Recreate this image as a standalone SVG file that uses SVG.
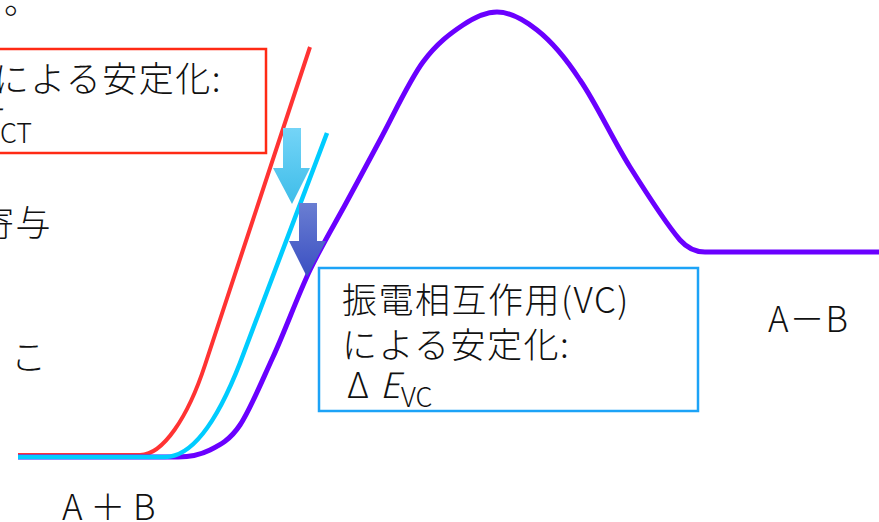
<svg xmlns="http://www.w3.org/2000/svg" width="879" height="522" viewBox="0 0 879 522">
  <defs>
    <style>
      .t { font-family: "Noto Sans CJK JP", "Noto Sans", sans-serif; font-size: 35px; font-weight: 300; fill: #111; }
      .w { letter-spacing: 1.5px; }
      .sub { font-size: 27px; letter-spacing: 0; }
      .curve { fill: none; stroke-linecap: butt; stroke-linejoin: round; }
      .box { fill: none; stroke-width: 2.5; }
    </style>
    <linearGradient id="gLight" x1="0" y1="0" x2="0" y2="1">
      <stop offset="0" stop-color="#74d4f7"/>
      <stop offset="1" stop-color="#3ebde9"/>
    </linearGradient>
    <linearGradient id="gDark" x1="0" y1="0" x2="0" y2="1">
      <stop offset="0" stop-color="#6a7ed2"/>
      <stop offset="1" stop-color="#3a4fc2"/>
    </linearGradient>
  </defs>

  <g id="partial-text">
    <text class="t" x="4" y="14">。</text>
    <text class="t w" x="-21" y="236">寄与</text>
    <text class="t" x="11" y="370">こ</text>
  </g>

  <g id="ct-box">
    <rect class="box" x="-10" y="49" width="276" height="104" stroke="#ff2a14"/>
    <text class="t w" x="222" y="92" text-anchor="end">による安定化:</text>
    <text class="t" y="134"><tspan x="-54">Δ</tspan><tspan x="-21" font-style="italic">E</tspan><tspan class="sub" x="0" y="143">CT</tspan></text>
  </g>

  <g id="connectors">
    <path class="curve" stroke="#ff3333" stroke-width="4" d="M18,455 H140 C163,455 188,417 205,365 L310,47"/>
    <path class="curve" stroke="#6a00ff" stroke-width="5" d="M18,457 H178 C189,457 200,455 210,450 C220,445 230,440 240,425 C250,410 261,383 273,357 C285,331 298,295 310,270 C322,245 333,227 345,205 C357,183 367,164 380,140 C393,116 409,81 423,62 C437,43 451,33 463,25 C475,17 485,12 497,12 C509,12 523,19 537,30 C551,41 565,57 580,80 C596,103 613,140 630,167 C647,194 668,226 680,240 C688,249 696,252 705,252 H879"/>
    <path class="curve" stroke="#00ccff" stroke-width="4.5" d="M18,457 H165 C190,457 215,427 240,363 L327,133"/>
  </g>

  <g id="arrow-ct">
    <polygon points="283,128 301,128 301,168 310,168 292,204 273,168 283,168" fill="url(#gLight)"/>
  </g>
  <g id="arrow-vc">
    <polygon points="299,203 317,203 317,241 326,241 307,277 289,241 299,241" fill="url(#gDark)"/>
  </g>

  <g id="vc-box">
    <rect class="box" x="319" y="268" width="379" height="143" stroke="#1ca3f7" fill="#fff"/>
    <text class="t w" x="342" y="313">振電相互作用(VC)</text>
    <text class="t w" x="342" y="358">による安定化:</text>
    <text class="t" y="398"><tspan x="347">Δ</tspan><tspan x="380" font-style="italic">E</tspan><tspan class="sub" x="401" y="407">VC</tspan></text>
  </g>

  <g id="label-ab">
    <text class="t" x="62" y="520">A ＋ B</text>
  </g>
  <g id="label-a-b">
    <text class="t" x="768" y="332" letter-spacing="1">A－B</text>
  </g>
</svg>
